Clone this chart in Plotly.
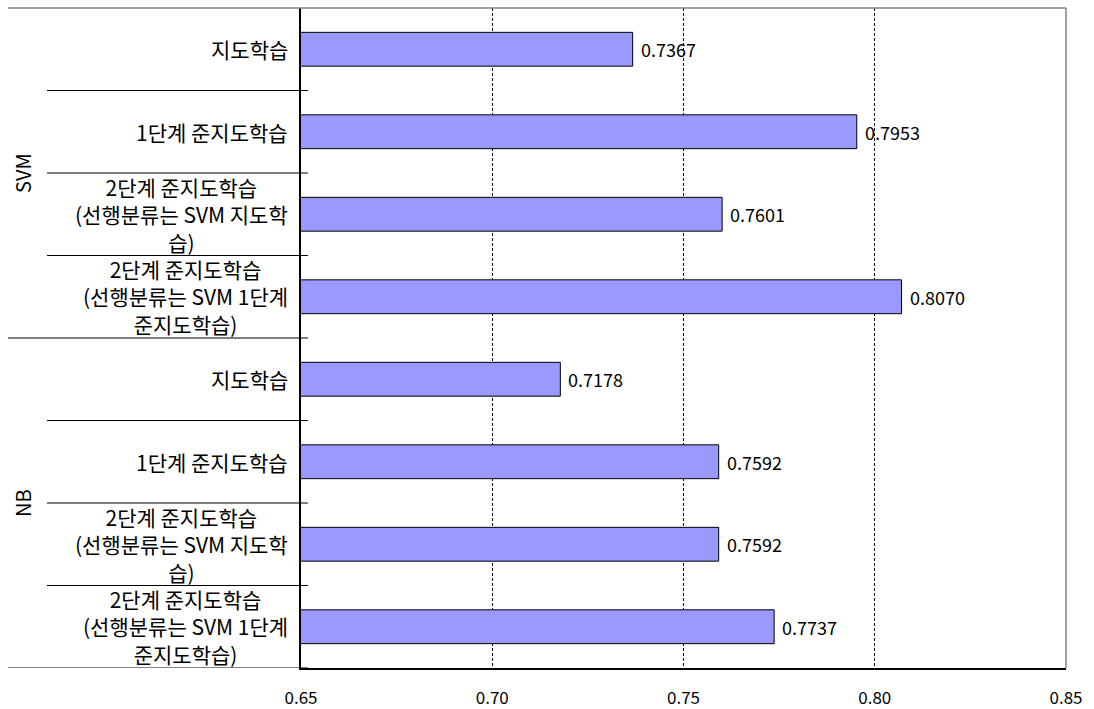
import plotly.graph_objects as go

# Accuracy of each training scheme, grouped by classifier
groups = ["SVM", "NB"]
methods = [
    "지도학습",
    "1단계 준지도학습",
    "2단계 준지도학습<br>(선행분류는 SVM 지도학<br>습)",
    "2단계 준지도학습<br>(선행분류는 SVM 1단계<br>준지도학습)",
]
svm_scores = [0.7367, 0.7953, 0.7601, 0.8070]
nb_scores = [0.7178, 0.7592, 0.7592, 0.7737]

x_ticks = [0.65, 0.70, 0.75, 0.80, 0.85]

scores = svm_scores + nb_scores
labels = methods + methods
positions = list(range(len(scores)))
per_group = len(methods)

FONT = "Noto Sans CJK KR, Noto Sans, sans-serif"

fig = go.Figure()
fig.add_trace(go.Bar(
    x=scores,
    y=positions,
    orientation="h",
    width=0.41,
    marker=dict(color="#9999FF", line=dict(color="#000000", width=1)),
    hoverinfo="x",
))

annotations = []
# value labels next to each bar
for p, v in zip(positions, scores):
    annotations.append(dict(
        x=v, y=p, xref="x", yref="y", text=f"{v:.4f}",
        showarrow=False, xanchor="left", xshift=6,
        font=dict(family=FONT, size=18, color="#000000"),
    ))
# method labels left of the axis
for p, lab in zip(positions, labels):
    annotations.append(dict(
        x=0, y=p, xref="paper", yref="y", text=lab,
        showarrow=False, xanchor="right", align="center", xshift=-11,
        font=dict(family=FONT, size=21, color="#000000"),
    ))
# rotated group labels
for g, name in enumerate(groups):
    annotations.append(dict(
        x=-0.3647, y=g * per_group + (per_group - 1) / 2, xref="paper", yref="y",
        text=name, showarrow=False, textangle=-90,
        xanchor="center", yanchor="middle",
        font=dict(family=FONT, size=20, color="#000000"),
    ))

shapes = []
# separator lines between method rows and between groups
for k in range(1, len(scores) + 1):
    yb = k - 0.5
    x0 = -0.383 if k % per_group == 0 else -0.332
    shapes.append(dict(
        type="line", xref="paper", yref="y", x0=x0, x1=0.0092, y0=yb, y1=yb,
        line=dict(color="#000000", width=1),
    ))
# top border extends over the label column
shapes.append(dict(
    type="line", xref="paper", yref="paper", x0=-0.383, x1=1, y0=1, y1=1,
    line=dict(color="#808080", width=1.5),
))
shapes.append(dict(
    type="line", xref="paper", yref="paper", x0=1, x1=1, y0=0, y1=1,
    line=dict(color="#808080", width=1.5),
))

fig.update_layout(
    width=1094, height=709,
    margin=dict(l=301, r=28, t=8, b=41, autoexpand=False),
    paper_bgcolor="#ffffff",
    plot_bgcolor="#ffffff",
    showlegend=False,
    annotations=annotations,
    shapes=shapes,
    xaxis=dict(
        range=[0.65, 0.85],
        tickvals=x_ticks,
        ticktext=[f"{t:.2f}" for t in x_ticks],
        showgrid=True,
        gridcolor="#000000",
        gridwidth=1,
        griddash="3px,2px",
        zeroline=False,
        showline=True,
        linecolor="#000000",
        linewidth=1.5,
        ticks="",
        automargin=False,
        ticklabelstandoff=14,
        tickfont=dict(family=FONT, size=17, color="#000000"),
    ),
    yaxis=dict(
        range=[len(scores) - 0.5, -0.5],
        showticklabels=False,
        showgrid=False,
        zeroline=False,
        showline=True,
        linecolor="#000000",
        linewidth=1.5,
        ticks="",
        automargin=False,
    ),
)

fig.write_html("out.html")
